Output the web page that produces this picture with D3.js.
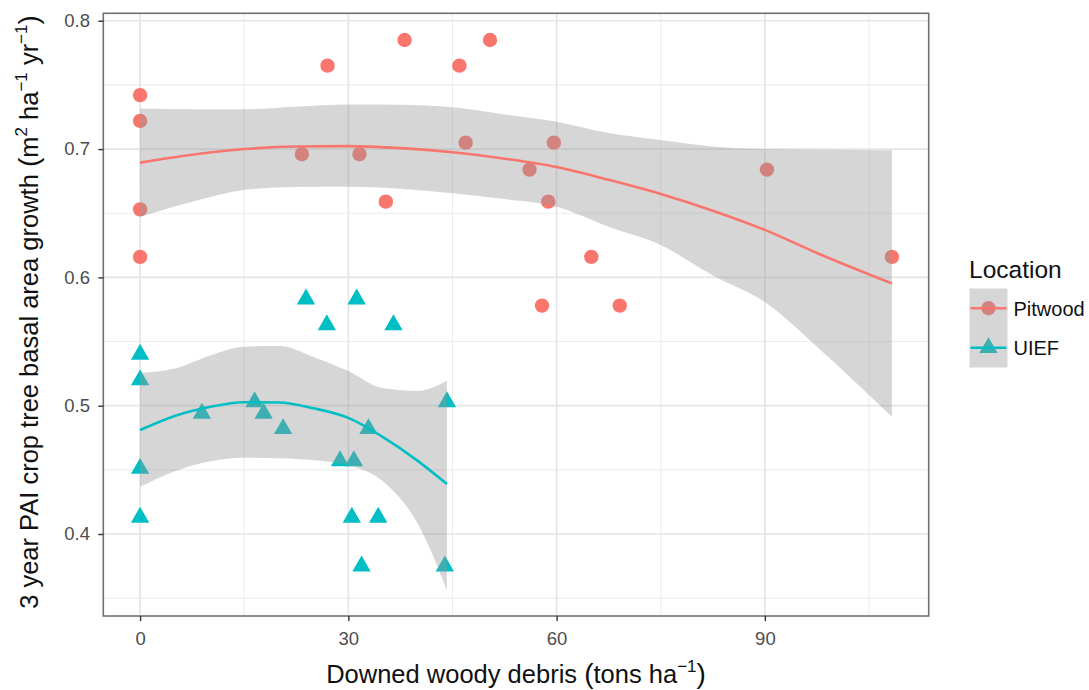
<!DOCTYPE html>
<html>
<head>
<meta charset="utf-8">
<script src="https://cdn.jsdelivr.net/npm/d3@7"></script>
<style>
  html, body { margin: 0; padding: 0; background: #fff; }
  svg text { font-family: "Liberation Sans", Arial, Helvetica, sans-serif; }
</style>
</head>
<body>
<svg id="chart" width="1089" height="690"></svg>
<script>
// Downed woody debris (tons/ha) vs 3-year PAI basal area growth, by location
const pitwoodDebris = [0, 0, 0, 0, 23.3, 27.0, 31.6, 35.4, 38.1, 46.0, 46.9, 50.4, 56.1, 57.9, 58.8, 59.6, 65.0, 69.1, 90.3, 108.3];
const pitwoodGrowth = [0.742, 0.722, 0.653, 0.616, 0.696, 0.765, 0.696, 0.659, 0.785, 0.765, 0.705, 0.785, 0.684, 0.578, 0.659, 0.705, 0.616, 0.578, 0.684, 0.616];

const uiefDebris = [0, 0, 0, 0, 8.9, 16.5, 17.8, 20.6, 23.9, 26.9, 28.8, 30.5, 30.8, 31.2, 31.9, 32.9, 34.3, 36.5, 43.9, 44.2];
const uiefGrowth = [0.540, 0.520, 0.451, 0.413, 0.494, 0.503, 0.494, 0.482, 0.583, 0.563, 0.457, 0.413, 0.457, 0.583, 0.375, 0.482, 0.413, 0.563, 0.375, 0.503];

// Loess smooths with confidence bands
const pitwoodSmoothX = [0, 7.5, 15, 22.5, 30, 37.5, 45, 52.5, 60, 67.5, 75, 82.5, 90, 97.5, 108.3];
const pitwoodFit     = [0.6894, 0.6955, 0.7000, 0.7020, 0.7023, 0.7007, 0.6975, 0.6925, 0.6860, 0.6760, 0.6650, 0.6520, 0.6370, 0.6190, 0.5953];
const pitwoodUpper   = [0.7317, 0.7310, 0.7310, 0.7330, 0.7348, 0.7345, 0.7325, 0.7270, 0.7213, 0.7125, 0.7070, 0.7020, 0.7000, 0.6995, 0.6990];
const pitwoodLower   = [0.6472, 0.6590, 0.6680, 0.6705, 0.6706, 0.6690, 0.6655, 0.6610, 0.6550, 0.6394, 0.6252, 0.6015, 0.5808, 0.5460, 0.4914];

const uiefSmoothX = [0, 5, 10, 15, 20, 25, 30, 35, 40, 44.2];
const uiefFit     = [0.4810, 0.4920, 0.4990, 0.5027, 0.5025, 0.4980, 0.4905, 0.4755, 0.4570, 0.4389];
const uiefUpper   = [0.5257, 0.5290, 0.5390, 0.5460, 0.5465, 0.5380, 0.5270, 0.5135, 0.5115, 0.5194];
const uiefLower   = [0.4368, 0.4490, 0.4565, 0.4595, 0.4590, 0.4575, 0.4535, 0.4410, 0.4080, 0.3563];

const xTicks = [0, 30, 60, 90];
const xMinor = [15, 45, 75, 105];
const yTicks = [0.4, 0.5, 0.6, 0.7, 0.8];
const yMinor = [0.35, 0.45, 0.55, 0.65, 0.75];

const locations = ["Pitwood", "UIEF"];
const colors = ["#F8766D", "#00BFC4"];

const svg = d3.select("#chart");
const panel = { left: 103.3, right: 928.7, top: 13.3, bottom: 616 };

const x = d3.scaleLinear().domain([-5.3, 113.6]).range([panel.left, panel.right]);
const y = d3.scaleLinear().domain([0.3361, 0.8058]).range([panel.bottom, panel.top]);

const g = svg.append("g");

// panel background
g.append("rect")
  .attr("x", panel.left).attr("y", panel.top)
  .attr("width", panel.right - panel.left).attr("height", panel.bottom - panel.top)
  .attr("fill", "#fff");

// grid lines
g.selectAll(".xminor").data(xMinor).enter().append("line")
  .attr("x1", d => x(d)).attr("x2", d => x(d))
  .attr("y1", panel.top).attr("y2", panel.bottom)
  .attr("stroke", "#EDEDED").attr("stroke-width", 1.1);
g.selectAll(".yminor").data(yMinor).enter().append("line")
  .attr("y1", d => y(d)).attr("y2", d => y(d))
  .attr("x1", panel.left).attr("x2", panel.right)
  .attr("stroke", "#EDEDED").attr("stroke-width", 1.1);
g.selectAll(".xmajor").data(xTicks).enter().append("line")
  .attr("x1", d => x(d)).attr("x2", d => x(d))
  .attr("y1", panel.top).attr("y2", panel.bottom)
  .attr("stroke", "#E5E5E5").attr("stroke-width", 1.7);
g.selectAll(".ymajor").data(yTicks).enter().append("line")
  .attr("y1", d => y(d)).attr("y2", d => y(d))
  .attr("x1", panel.left).attr("x2", panel.right)
  .attr("stroke", "#E5E5E5").attr("stroke-width", 1.7);

// point symbols (circle for Pitwood, filled triangle for UIEF)
const circleSym = d3.symbol().type(d3.symbolCircle).size(Math.PI * 7.2 * 7.2);
function trianglePath(r) {
  const hx = r * Math.sqrt(3) / 2;
  return `M0,${-r}L${hx},${r / 2}L${-hx},${r / 2}Z`;
}
const triR = 10.6;

const pitPts = pitwoodDebris.map((d, i) => ({ x: d, y: pitwoodGrowth[i] }));
const uiefPts = uiefDebris.map((d, i) => ({ x: d, y: uiefGrowth[i] }));

g.selectAll(".pit").data(pitPts).enter().append("path")
  .attr("d", circleSym())
  .attr("transform", d => `translate(${x(d.x)},${y(d.y)})`)
  .attr("fill", colors[0]);
g.selectAll(".uief").data(uiefPts).enter().append("path")
  .attr("d", trianglePath(triR))
  .attr("transform", d => `translate(${x(d.x)},${y(d.y)})`)
  .attr("fill", colors[1]);

// smooth ribbons and lines
function band(xs, lo, hi) {
  return d3.area()
    .x((d, i) => x(xs[i]))
    .y0((d, i) => y(lo[i]))
    .y1((d, i) => y(hi[i]))
    .curve(d3.curveMonotoneX)(xs);
}
function fitLine(xs, fit) {
  return d3.line()
    .x((d, i) => x(xs[i]))
    .y((d, i) => y(fit[i]))
    .curve(d3.curveMonotoneX)(xs);
}

const smooths = [
  { xs: pitwoodSmoothX, fit: pitwoodFit, lo: pitwoodLower, hi: pitwoodUpper, color: colors[0] },
  { xs: uiefSmoothX, fit: uiefFit, lo: uiefLower, hi: uiefUpper, color: colors[1] }
];
smooths.forEach(s => {
  g.append("path").attr("d", band(s.xs, s.lo, s.hi))
    .attr("fill", "#999999").attr("fill-opacity", 0.4);
});
smooths.forEach(s => {
  g.append("path").attr("d", fitLine(s.xs, s.fit))
    .attr("fill", "none").attr("stroke", s.color).attr("stroke-width", 2.6);
});

// panel border
g.append("rect")
  .attr("x", panel.left).attr("y", panel.top)
  .attr("width", panel.right - panel.left).attr("height", panel.bottom - panel.top)
  .attr("fill", "none").attr("stroke", "#707070").attr("stroke-width", 1.6);

// axes
const xAxis = svg.append("g")
  .attr("transform", `translate(0,${panel.bottom})`)
  .call(d3.axisBottom(x).tickValues(xTicks).tickFormat(d3.format("d")).tickSize(5).tickPadding(10.5));
const yAxis = svg.append("g")
  .attr("transform", `translate(${panel.left},0)`)
  .call(d3.axisLeft(y).tickValues(yTicks).tickFormat(d3.format(".1f")).tickSize(5).tickPadding(8.3));
[xAxis, yAxis].forEach(a => {
  a.select(".domain").remove();
  a.selectAll(".tick line").attr("stroke", "#333").attr("stroke-width", 1.4);
  a.selectAll(".tick text").attr("fill", "#4D4D4D").style("font-size", "18.5px")
    .style("font-family", "'Liberation Sans', Arial, sans-serif");
});

// axis titles
const supSize = "17px", supShift = 11;
const xTitle = svg.append("text")
  .attr("x", (panel.left + panel.right) / 2).attr("y", 683)
  .attr("text-anchor", "middle").attr("fill", "#111").style("font-size", "25.5px");
xTitle.append("tspan").text("Downed woody debris ");
xTitle.append("tspan").text("(").style("font-size", "28px");
xTitle.append("tspan").text("tons ha");
xTitle.append("tspan").text("\u22121").attr("dy", -supShift).style("font-size", supSize);
xTitle.append("tspan").text(")").attr("dy", supShift).style("font-size", "28px");

const yTitle = svg.append("text")
  .attr("transform", `translate(38,312) rotate(-90)`)
  .attr("text-anchor", "middle").attr("fill", "#111").style("font-size", "25.5px");
yTitle.append("tspan").text("3 year PAI crop tree basal area growth ");
yTitle.append("tspan").text("(").style("font-size", "28px");
yTitle.append("tspan").text("m");
yTitle.append("tspan").text("2").attr("dy", -supShift).style("font-size", supSize);
yTitle.append("tspan").text(" ha").attr("dy", supShift);
yTitle.append("tspan").text("\u22121").attr("dy", -supShift).style("font-size", supSize);
yTitle.append("tspan").text(" yr").attr("dy", supShift);
yTitle.append("tspan").text("\u22121").attr("dy", -supShift).style("font-size", supSize);
yTitle.append("tspan").text(")").attr("dy", supShift).style("font-size", "28px");

// legend
const legend = svg.append("g");
legend.append("text").attr("x", 969).attr("y", 278)
  .attr("fill", "#111").style("font-size", "24.5px").text("Location");
const keyX = 969.5, keyW = 38, keyH = 39.5, keyTop = 288.5;
locations.forEach((name, i) => {
  const ky = keyTop + i * keyH;
  const cy = ky + keyH / 2;
  const cx = keyX + keyW / 2;
  legend.append("rect").attr("x", keyX).attr("y", ky).attr("width", keyW).attr("height", keyH).attr("fill", "#fff");
  if (i === 0) {
    legend.append("path").attr("d", circleSym()).attr("transform", `translate(${cx},${cy})`).attr("fill", colors[i]);
  } else {
    legend.append("path").attr("d", trianglePath(triR)).attr("transform", `translate(${cx},${cy})`).attr("fill", colors[i]);
  }
  legend.append("rect").attr("x", keyX).attr("y", ky).attr("width", keyW).attr("height", keyH)
    .attr("fill", "#999999").attr("fill-opacity", 0.4);
  legend.append("line").attr("x1", keyX + 1).attr("x2", keyX + keyW - 1)
    .attr("y1", cy).attr("y2", cy).attr("stroke", colors[i]).attr("stroke-width", 2.6);
  legend.append("text").attr("x", 1013.5).attr("y", cy + 7.3)
    .attr("fill", "#111").style("font-size", "20px").text(name);
});
</script>
</body>
</html>
